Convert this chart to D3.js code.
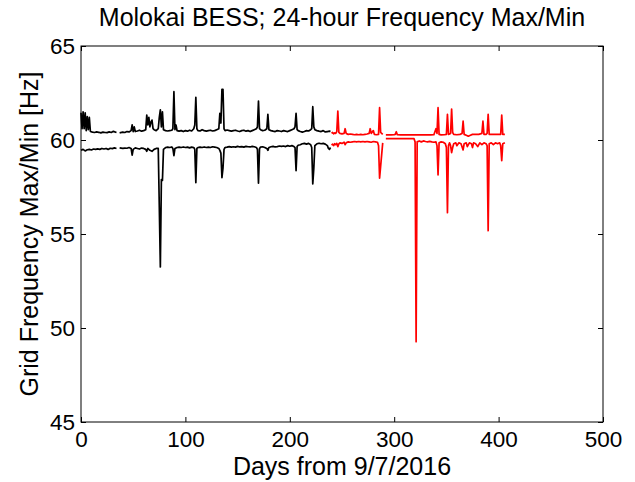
<!DOCTYPE html>
<head>
<meta charset='utf-8'>
<style>
  body { margin: 0; background: #fff; }
  svg text { font-family: 'Liberation Sans', Arial, sans-serif; fill: #000; }
  .tick line { stroke: #000; }
</style>
</head>
<body>
<div id='vis'></div>
<script src='https://d3js.org/d3.v7.min.js'></script>
<script>
  // days from 9/7/2016, daily max / min grid frequency [Hz]; null = missing day
  const xTicks = [0, 100, 200, 300, 400, 500]
  const yTicks = [45, 50, 55, 60, 65]

  const blackMax = [[0,61.45],[1,60.6],[2,61.5],[3,60.6],[4,61.45],[5,60.5],[6,61.25],[7,60.55],[8,61.2],[9,60.45],[11,60.42],[13,60.4],[15,60.43],[17,60.41],[19,60.38],[21,60.42],[23,60.4],[25,60.39],[27,60.43],[29,60.4],[31,60.46],[34,60.4],[35,null],[37,60.38],[40,60.42],[42,60.4],[44,60.45],[46,60.43],[48,60.5],[49,60.8],[50,60.45],[51,60.7],[52,60.45],[54,60.48],[56,60.52],[58,60.47],[60,60.5],[62,60.55],[63,61.33],[64,60.8],[65,61.2],[66,60.7],[67,60.95],[68,61.06],[69,60.6],[70,60.55],[72,60.5],[74,60.6],[75,61.2],[76,61.6],[77,60.7],[78,61.5],[79,60.55],[81,60.5],[83,60.48],[85,60.5],[87,60.52],[88,60.6],[89,62.57],[90,60.55],[91,60.8],[92,60.5],[94,60.47],[96,60.5],[98,60.45],[100,60.5],[102,60.47],[104,60.52],[106,60.48],[108,60.6],[109,60.8],[110,62.27],[111,60.6],[112,60.5],[114,60.48],[116,60.55],[118,60.5],[120,60.47],[122,60.5],[124,60.52],[126,60.48],[128,60.5],[130,60.55],[132,60.6],[133,61.42],[134,60.9],[135,62.7],[136,62.7],[137,60.6],[138,60.5],[140,60.53],[142,60.5],[144,60.47],[146,60.5],[148,60.52],[150,60.48],[152,60.45],[154,60.5],[156,60.52],[158,60.47],[160,60.5],[162,60.45],[164,60.5],[166,60.55],[168,60.6],[169,60.7],[170,62.07],[171,60.6],[172,60.55],[174,60.5],[176,60.52],[178,60.6],[179,61.37],[180,60.55],[182,60.5],[184,60.47],[186,60.45],[188,60.5],[190,60.48],[192,60.45],[194,60.5],[196,60.47],[198,60.45],[200,60.5],[202,60.55],[204,60.6],[205,60.7],[206,61.42],[207,60.55],[208,60.5],[210,60.45],[212,60.42],[214,60.45],[216,60.5],[218,60.48],[220,60.55],[221,60.6],[222,61.77],[223,60.7],[224,60.55],[226,60.5],[228,60.47],[230,60.45],[232,60.5],[234,60.43],[236,60.45],[238,60.47],[239,60.45]]

  const blackMin = [[0,59.45],[2,59.5],[4,59.42],[6,59.48],[8,59.5],[10,59.47],[12,59.52],[14,59.5],[16,59.53],[18,59.5],[20,59.55],[22,59.52],[24,59.55],[26,59.5],[28,59.56],[30,59.54],[32,59.58],[34,59.55],[35,null],[37,59.58],[40,59.55],[42,59.57],[44,59.56],[46,59.6],[48,59.55],[49,59.2],[50,59.5],[52,59.58],[54,59.55],[56,59.52],[58,59.57],[60,59.55],[62,59.5],[63,59.4],[64,59.55],[66,59.45],[68,59.4],[70,59.5],[72,59.55],[74,59.55],[75,56.45],[76,53.25],[77,57.9],[78,57.85],[79,59.5],[81,59.6],[83,59.62],[85,59.6],[87,59.63],[88,59.55],[89,59.17],[90,59.55],[92,59.6],[94,59.62],[96,59.6],[98,59.63],[100,59.6],[102,59.62],[104,59.58],[106,59.62],[108,59.6],[109,59.5],[110,57.73],[111,59.55],[112,59.6],[114,59.62],[116,59.6],[118,59.63],[120,59.6],[122,59.62],[124,59.6],[126,59.64],[128,59.62],[130,59.6],[132,59.55],[133,59.45],[134,59.3],[135,58.0],[136,58.5],[137,59.5],[138,59.6],[140,59.62],[142,59.65],[144,59.62],[146,59.64],[148,59.62],[150,59.66],[152,59.63],[154,59.65],[156,59.62],[158,59.66],[160,59.64],[162,59.63],[164,59.66],[166,59.64],[168,59.6],[169,59.5],[170,57.7],[171,59.55],[172,59.62],[174,59.64],[176,59.6],[178,59.55],[179,59.45],[180,59.6],[182,59.64],[184,59.66],[186,59.63],[188,59.65],[190,59.68],[192,59.66],[194,59.68],[196,59.65],[198,59.7],[200,59.67],[202,59.7],[204,59.65],[205,59.6],[206,58.37],[207,59.65],[208,59.72],[210,59.75],[212,59.8],[214,59.82],[216,59.78],[218,59.82],[220,59.75],[221,59.6],[222,57.66],[223,58.5],[224,59.7],[226,59.8],[228,59.83],[230,59.8],[232,59.82],[234,59.78],[236,59.7],[237,59.55],[238,59.5],[239,59.6]]

  const redMax = [[240,60.35],[241,60.4],[242,60.33],[243,60.38],[244,60.35],[245,60.45],[246,61.54],[247,60.4],[248,60.35],[250,60.33],[252,60.35],[253,60.6],[254,60.35],[256,60.3],[258,60.32],[260,60.3],[262,60.28],[264,60.3],[266,60.28],[268,60.3],[270,60.28],[272,60.3],[274,60.32],[276,60.35],[277,60.6],[278,60.35],[280,60.5],[281,60.3],[283,60.28],[285,60.3],[286,61.72],[287,60.4],[289,60.3],[290,null],[292,60.27],[295,60.27],[297,60.27],[300,60.28],[301,60.3],[302,60.44],[303,60.28],[306,60.27],[310,60.27],[315,60.27],[320,60.27],[325,60.27],[330,60.27],[335,60.27],[338,60.28],[340,60.6],[341,60.35],[342,61.72],[343,60.3],[345,60.27],[348,60.28],[350,60.3],[351,61.37],[352,60.3],[354,60.35],[355,61.65],[356,60.4],[357,60.3],[360,60.28],[363,60.3],[365,60.35],[366,61.0],[367,60.3],[369,60.25],[371,60.2],[373,60.25],[375,60.3],[378,60.3],[381,60.3],[384,60.35],[385,61.0],[386,60.3],[388,60.3],[389,60.35],[390,61.37],[391,60.3],[394,60.3],[397,60.3],[400,60.3],[402,60.3],[403,61.33],[404,60.3],[406,60.3]]

  const redMin = [[240,59.73],[241,59.78],[242,59.7],[243,59.8],[244,59.75],[245,59.82],[246,59.65],[247,59.8],[248,59.85],[250,59.82],[252,59.88],[253,59.75],[254,59.85],[256,59.9],[258,59.88],[260,59.9],[262,59.92],[264,59.9],[266,59.92],[268,59.9],[270,59.92],[272,59.9],[274,59.92],[276,59.9],[278,59.88],[280,59.92],[282,59.9],[284,59.88],[285,59.7],[286,57.97],[287,58.6],[289,59.85],[290,null],[292,60.07],[296,60.07],[300,60.07],[305,60.07],[310,60.07],[315,60.07],[319,60.07],[320,59.9],[321,49.27],[322,59.9],[324,59.95],[326,59.9],[328,59.95],[330,59.92],[332,59.9],[334,59.93],[336,59.9],[338,59.88],[340,59.9],[341,59.7],[342,58.14],[343,59.85],[345,59.9],[347,59.88],[349,59.8],[350,59.6],[351,56.13],[352,59.7],[353,59.85],[354,59.7],[355,59.33],[356,59.6],[357,59.8],[359,59.85],[360,59.7],[362,59.85],[364,59.8],[366,59.47],[367,59.8],[369,59.85],[370,59.65],[372,59.85],[374,59.8],[375,59.6],[376,59.85],[378,59.8],[380,59.65],[382,59.85],[384,59.75],[386,59.85],[388,59.8],[389,59.7],[390,55.18],[391,59.8],[393,59.85],[395,59.75],[397,59.85],[399,59.8],[401,59.85],[402,59.7],[403,58.9],[404,59.8],[406,59.85]]

  const width = 635, height = 482
  const margin = {top: 46, right: 32, bottom: 60, left: 81}

  const x = d3.scaleLinear().domain([0, 500]).range([margin.left, width - margin.right])
  const y = d3.scaleLinear().domain([45, 65]).range([height - margin.bottom, margin.top])

  const svg = d3.select('#vis').append('svg')
    .attr('width', width)
    .attr('height', height)

  // series
  const line = d3.line()
    .defined(d => d[1] != null)
    .x(d => x(d[0]))
    .y(d => y(d[1]))

  const series = [
    {data: blackMax, color: '#000'},
    {data: blackMin, color: '#000'},
    {data: redMax, color: '#ff0000'},
    {data: redMin, color: '#ff0000'}
  ]

  svg.append('g').selectAll('path')
    .data(series)
    .join('path')
    .attr('d', d => line(d.data))
    .attr('fill', 'none')
    .attr('stroke', d => d.color)
    .attr('stroke-width', 1.7)
    .attr('stroke-linejoin', 'round')

  // axes, matlab style: ticks inside, box all round
  const tickFont = 22.5
  svg.append('g')
    .attr('transform', `translate(0, ${height - margin.bottom})`)
    .call(d3.axisBottom(x).tickValues(xTicks).tickSize(-5).tickPadding(9))
  svg.append('g')
    .attr('transform', `translate(${margin.left}, 0)`)
    .call(d3.axisLeft(y).tickValues(yTicks).tickSize(-5).tickPadding(6))
  svg.append('g')
    .attr('transform', `translate(0, ${margin.top})`)
    .call(d3.axisTop(x).tickValues(xTicks).tickSize(-5).tickFormat(''))
  svg.append('g')
    .attr('transform', `translate(${width - margin.right}, 0)`)
    .call(d3.axisRight(y).tickValues(yTicks).tickSize(-5).tickFormat(''))

  svg.selectAll('.domain').remove()
  svg.selectAll('.tick text')
    .style('font-size', tickFont + 'px')
    .style('font-family', "'Liberation Sans', Arial, sans-serif")

  svg.append('rect')
    .attr('x', margin.left)
    .attr('y', margin.top)
    .attr('width', width - margin.left - margin.right)
    .attr('height', height - margin.top - margin.bottom)
    .attr('fill', 'none')
    .attr('stroke', '#000')
    .attr('stroke-width', 1)

  // labels
  const cx = (margin.left + width - margin.right) / 2
  svg.append('text')
    .attr('x', cx)
    .attr('y', 26)
    .attr('text-anchor', 'middle')
    .style('font-size', '25px')
    .text('Molokai BESS; 24-hour Frequency Max/Min')

  svg.append('text')
    .attr('x', cx)
    .attr('y', 475)
    .attr('text-anchor', 'middle')
    .style('font-size', '25px')
    .text('Days from 9/7/2016')

  svg.append('text')
    .attr('transform', `translate(38, ${(margin.top + height - margin.bottom) / 2}) rotate(-90)`)
    .attr('text-anchor', 'middle')
    .style('font-size', '25px')
    .text('Grid Frequency Max/Min [Hz]')
</script>
</body>
